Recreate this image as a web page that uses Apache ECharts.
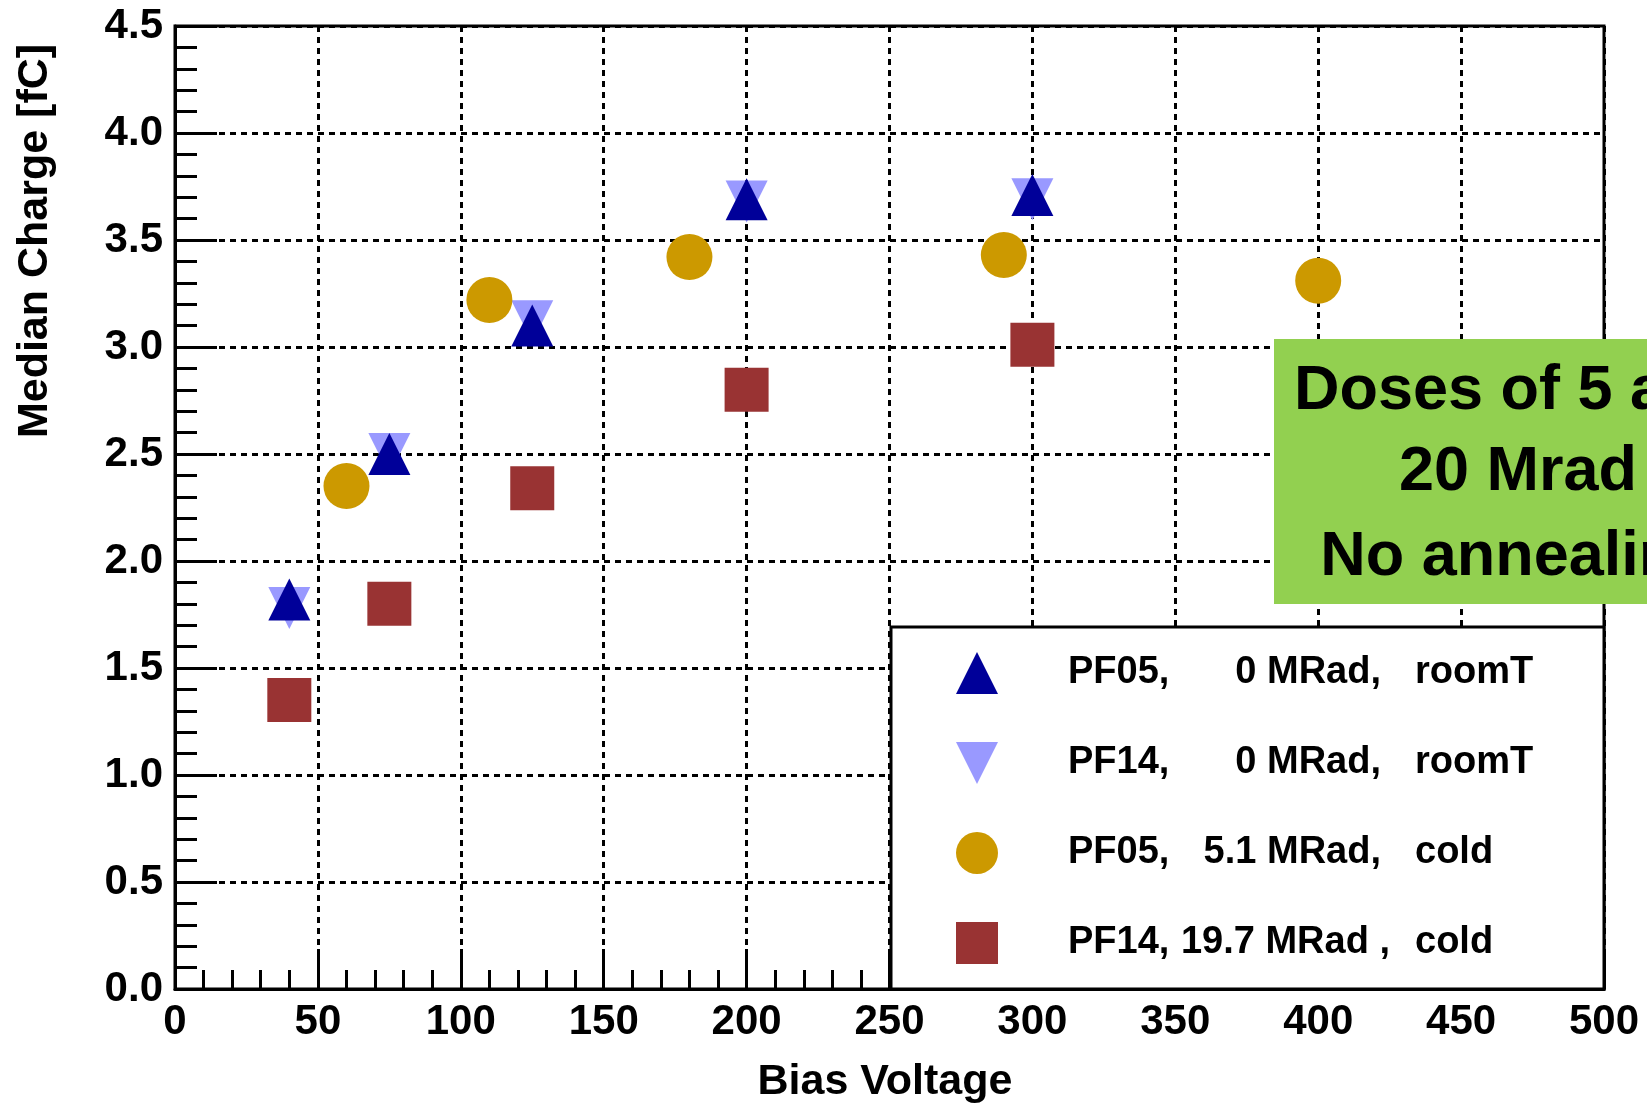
<!DOCTYPE html>
<html>
<head>
<meta charset="utf-8">
<script src="https://cdn.jsdelivr.net/npm/echarts@6/dist/echarts.min.js"></script>
<style>
  html, body { margin: 0; padding: 0; background: #ffffff; }
  #chart { width: 1647px; height: 1103px; }
</style>
</head>
<body>
<div id="chart"></div>
<script>
// ---- data ----
var xTicks = [0, 50, 100, 150, 200, 250, 300, 350, 400, 450, 500];
var yTicks = [0.0, 0.5, 1.0, 1.5, 2.0, 2.5, 3.0, 3.5, 4.0, 4.5];

var seriesNames = ['PF05, 0 MRad, roomT', 'PF14, 0 MRad, roomT', 'PF05, 5.1 MRad, cold', 'PF14, 19.7 MRad, cold'];
var legendSample = ['PF05,', 'PF14,', 'PF05,', 'PF14,'];
var legendDose = ['0 MRad,', '0 MRad,', '5.1 MRad,', '19.7 MRad ,'];
var legendTemp = ['roomT', 'roomT', 'cold', 'cold'];

var pf05RoomX = [40, 75, 125, 200, 300];
var pf05RoomY = [1.82, 2.50, 3.10, 3.69, 3.71];

var pf14RoomX = [40, 75, 125, 200, 300];
var pf14RoomY = [1.78, 2.50, 3.12, 3.68, 3.69];

var pf05ColdX = [60, 110, 180, 290, 400];
var pf05ColdY = [2.35, 3.22, 3.42, 3.43, 3.31];

var pf14ColdX = [40, 75, 125, 200, 300];
var pf14ColdY = [1.35, 1.80, 2.34, 2.80, 3.01];

var noteLines = ['Doses of 5 and', '20 Mrad', 'No annealing'];
var xTitle = 'Bias Voltage';
var yTitle = 'Median Charge [fC]';

function pairs(xs, ys) { return xs.map(function (x, i) { return [x, ys[i]]; }); }

var FONT = 'Liberation Sans';
var LEG_FONT_SIZE = 38;
var gridLeft = 175, gridRight = 43, gridTop = 26, gridBottom = 114;

// legend column layout (text measured with the same font)
var mctx = document.createElement('canvas').getContext('2d');
mctx.font = 'bold ' + LEG_FONT_SIZE + 'px "' + FONT + '"';
function tw(s) { return mctx.measureText(s).width; }
var legTextStart = 1003;     // where legend text begins (icon right + 5)
var colSample = 1068;        // sample name left edge
var colDoseRight = [1381, 1381, 1381, 1390];
var colTemp = 1415;          // temperature left edge

var rich = {};
var baseTok = { fontFamily: FONT, fontWeight: 'bold', fontSize: LEG_FONT_SIZE, color: '#000', lineHeight: 42 };
for (var i = 0; i < 4; i++) {
  var wa = tw(legendSample[i]);
  var wb = tw(legendDose[i]);
  var padB = Math.max(0, colDoseRight[i] - wb - (colSample + wa));
  var padC = Math.max(0, colTemp - colDoseRight[i]);
  rich['a' + i] = Object.assign({ padding: [0, 0, 0, colSample - legTextStart] }, baseTok);
  rich['b' + i] = Object.assign({ padding: [0, 0, 0, padB] }, baseTok);
  rich['c' + i] = Object.assign({ padding: [0, 0, 0, padC] }, baseTok);
}

var chart = echarts.init(document.getElementById('chart'), null, { renderer: 'canvas' });

var splitStyle = { color: '#000', width: 3, type: [6, 5] };

var option = {
  backgroundColor: '#ffffff',
  animation: false,
  grid: { left: gridLeft, right: gridRight, top: gridTop, bottom: gridBottom, show: true, borderColor: '#000', borderWidth: 3, backgroundColor: 'transparent' },
  xAxis: {
    type: 'value', min: xTicks[0], max: xTicks[xTicks.length - 1], interval: 50,
    axisLine: { show: true, lineStyle: { color: '#000', width: 3 } },
    axisTick: { show: true, inside: true, length: 40, lineStyle: { color: '#000', width: 3 } },
    minorTick: { show: true, splitNumber: 5, length: 19, lineStyle: { color: '#000', width: 3 } },
    axisLabel: { color: '#000', fontFamily: FONT, fontWeight: 'bold', fontSize: 42, margin: 12 },
    splitLine: { show: true, lineStyle: splitStyle }
  },
  yAxis: {
    type: 'value', min: yTicks[0], max: yTicks[yTicks.length - 1], interval: 0.5,
    axisLine: { show: true, lineStyle: { color: '#000', width: 3 } },
    axisTick: { show: true, inside: true, length: 42, lineStyle: { color: '#000', width: 3 } },
    minorTick: { show: true, splitNumber: 5, length: 22, lineStyle: { color: '#000', width: 3 } },
    axisLabel: { color: '#000', fontFamily: FONT, fontWeight: 'bold', fontSize: 42, margin: 12,
      formatter: function (v) { return v.toFixed(1); } },
    splitLine: { show: true, lineStyle: splitStyle }
  },
  legend: {
    orient: 'vertical', left: 956, top: 652, padding: 0, z: 10,
    itemWidth: 42, itemHeight: 42, itemGap: 48,
    data: [seriesNames[0], seriesNames[1], seriesNames[2], seriesNames[3]],
    formatter: function (name) {
      var k = seriesNames.indexOf(name);
      return '{a' + k + '|' + legendSample[k] + '}{b' + k + '|' + legendDose[k] + '}{c' + k + '|' + legendTemp[k] + '}';
    },
    textStyle: {
      color: '#000', fontFamily: FONT, fontWeight: 'bold', fontSize: LEG_FONT_SIZE, lineHeight: 42,
      rich: rich
    }
  },
  graphic: [
    { type: 'rect', z: 5, shape: { x: 891, y: 627, width: 713, height: 362 },
      style: { fill: '#ffffff', stroke: '#000', lineWidth: 3 } },
    { type: 'rect', z: 20, shape: { x: 1274, y: 339, width: 480, height: 265 },
      style: { fill: '#92d050' } },
    { type: 'text', z: 21, x: 1518, y: 392, style: { text: noteLines[0], fill: '#000', font: 'bold 63px "Liberation Sans"', align: 'center', verticalAlign: 'middle' } },
    { type: 'text', z: 21, x: 1518, y: 473, style: { text: noteLines[1], fill: '#000', font: 'bold 63px "Liberation Sans"', align: 'center', verticalAlign: 'middle' } },
    { type: 'text', z: 21, x: 1518, y: 558, style: { text: noteLines[2], fill: '#000', font: 'bold 63px "Liberation Sans"', align: 'center', verticalAlign: 'middle' } },
    { type: 'text', z: 21, x: 885, y: 1082, style: { text: xTitle, fill: '#000', font: 'bold 43px "Liberation Sans"', align: 'center', verticalAlign: 'middle' } },
    { type: 'text', z: 21, x: 35, y: 241, rotation: Math.PI / 2, style: { text: yTitle, fill: '#000', font: 'bold 43px "Liberation Sans"', align: 'center', verticalAlign: 'middle' } }
  ],
  series: [
    { name: seriesNames[1], type: 'scatter', z: 3, symbol: 'path://M0,0 L2,0 L1,2 Z', symbolSize: [42, 42],
      itemStyle: { color: '#9999ff', opacity: 1 }, data: pairs(pf14RoomX, pf14RoomY) },
    { name: seriesNames[0], type: 'scatter', z: 4, symbol: 'triangle', symbolSize: [42, 42],
      itemStyle: { color: '#000099', opacity: 1 }, data: pairs(pf05RoomX, pf05RoomY) },
    { name: seriesNames[2], type: 'scatter', z: 4, symbol: 'circle', symbolSize: 46,
      itemStyle: { color: '#cc9900', opacity: 1 }, data: pairs(pf05ColdX, pf05ColdY) },
    { name: seriesNames[3], type: 'scatter', z: 4, symbol: 'rect', symbolSize: 44,
      itemStyle: { color: '#993333', opacity: 1 }, data: pairs(pf14ColdX, pf14ColdY) }
  ]
};
chart.setOption(option);
</script>
</body>
</html>
